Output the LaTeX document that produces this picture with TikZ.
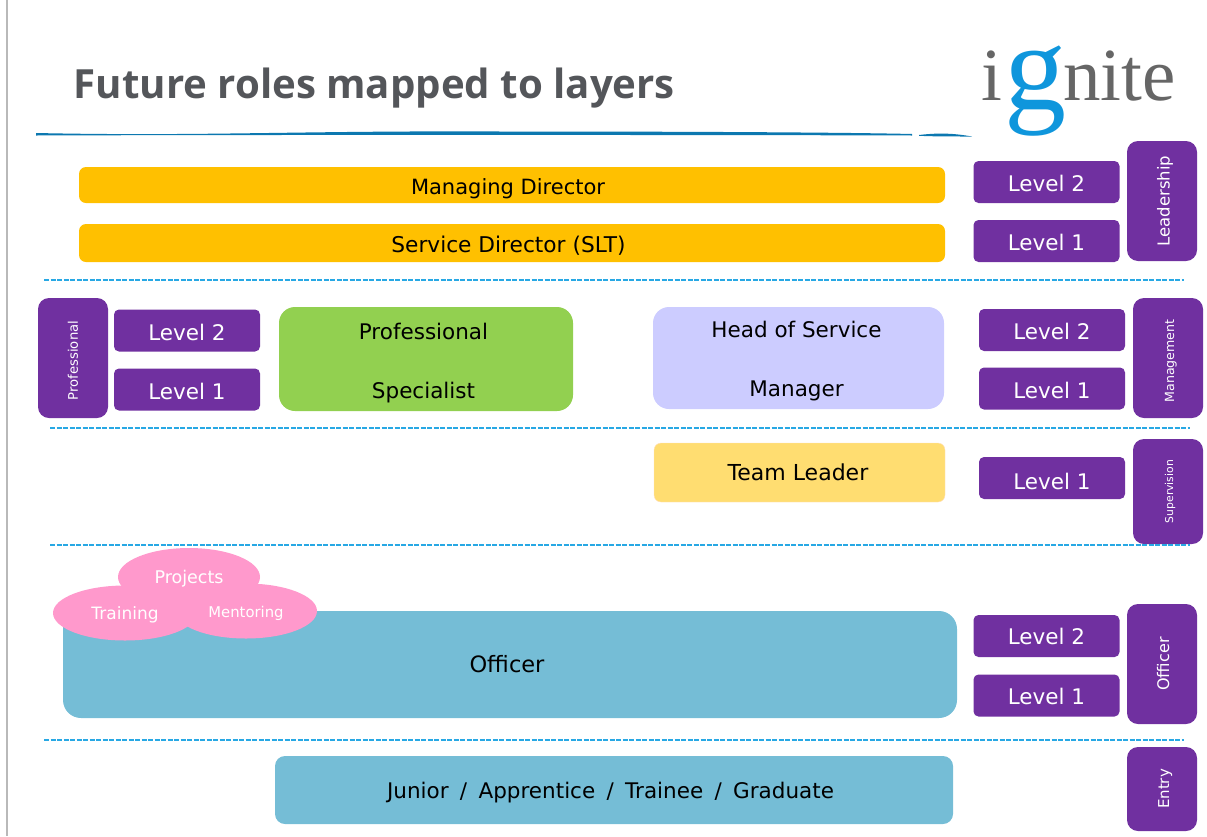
\documentclass[tikz,border=0pt]{standalone}
\usepackage{fontspec}
\setmainfont{DejaVu Sans}
\newfontfamily\titlefont{Open Sans}
\newfontfamily\logofont{Liberation Serif}
\newfontfamily\widefont[WordSpace=1.66]{DejaVu Sans}
\usetikzlibrary{positioning,shapes.geometric}
\definecolor{ignitepurple}{HTML}{7030A0}
\definecolor{igniteamber}{HTML}{FFC000}
\definecolor{ignitegreen}{HTML}{92D050}
\definecolor{ignitelilac}{HTML}{CCCCFF}
\definecolor{igniteyellow}{HTML}{FFDD71}
\definecolor{igniteteal}{HTML}{75BDD6}
\definecolor{ignitepink}{HTML}{FF99CC}
\definecolor{igniteblue}{HTML}{0F96DC}
\definecolor{ignitedash}{HTML}{28A8E4}
\definecolor{ignitegrey}{HTML}{54565A}
\definecolor{logogrey}{HTML}{666666}
\newcommand{\fs}[1]{\fontsize{#1}{#1}\selectfont}
\tikzset{
  rolebox/.style={fill=#1,rounded corners=7pt,inner sep=0pt,align=center,text=black},
  levelbox/.style={fill=ignitepurple,rounded corners=5pt,inner sep=0pt,text=white,
                   minimum width=146pt,minimum height=42pt,font=\fs{21.5},text height=19pt,text depth=0pt},
  sidebox/.style={fill=ignitepurple,rounded corners=11pt,inner sep=0pt,text=white,
                  rotate=90,minimum height=70pt},
  cloudpart/.style={fill=ignitepink,ellipse,inner sep=0pt,text=white},
  layerline/.style={ignitedash,line width=1.2pt,dash pattern=on 5pt off 1.5pt},
}
\begin{document}
\begin{tikzpicture}[x=1pt,y=-1pt]
  \useasboundingbox (0,0) rectangle (1207,836);

  % page edge
  \coordinate (edgetop) at (7,0);
  \coordinate (edgebot) at (7,836);
  \draw[gray!55,line width=2pt] (edgetop) -- (edgebot);

  % heading
  \node[anchor=base west,inner sep=0pt,text=ignitegrey,font=\titlefont\fs{40.2}\bfseries] (title) at (73.5,98) {Future roles mapped to layers};
  \fill[igniteblue!80!black] (36,133) .. controls (200,136.5) and (300,130.5) .. (500,131.5)
      .. controls (700,131.5) and (850,132.5) .. (912,134) -- (912,135.5)
      .. controls (800,135) and (300,134.5) .. (36,135.5) -- cycle;
  \fill[igniteblue!80!black] (919,135) .. controls (940,132.5) and (955,133.5) .. (972,136.5)
      .. controls (950,136.5) and (935,136.5) .. (919,135.8) -- cycle;

  % logo
  \node[anchor=base,inner sep=0pt,text=logogrey,font=\logofont\fs{75}] (logoi) at (991.5,100) {i};
  \node[anchor=base,inner sep=0pt,text=igniteblue,font=\logofont\fs{124}] (logog) at (1035,109.5) {g};
  \node[anchor=base west,inner sep=0pt,text=logogrey,font=\logofont\fs{75}] (logorest) at (1063,100) {nite};

  % leadership layer
  \node[rolebox=igniteamber,minimum width=866pt,minimum height=36pt,font=\fs{21},text height=19pt,text depth=0pt] (md) at (512,185) {\hspace*{-8pt}Managing Director};
  \node[rolebox=igniteamber,minimum width=866pt,minimum height=38pt,font=\fs{21.7},text height=19pt,text depth=0pt] (slt) at (512,243) {\hspace*{-7pt}Service Director (SLT)};
  \node[levelbox] (leadtwo) at (1046.5,182) {Level 2};
  \node[levelbox] (leadone) at (1046.5,241) {Level 1};
  \node[sidebox,minimum width=120pt,font=\fs{16.5},text height=15pt,text depth=0pt] (leadership) at (1162,201) {Leadership};
  \coordinate (lineaL) at (44,280);
  \coordinate (lineaR) at (1184,280);
  \draw[layerline] (lineaL) -- (lineaR);

  % management layer
  \node[sidebox,minimum width=120pt,font=\fs{13.2}] (professional) at (73,358) {\hspace*{-5pt}Professional};
  \node[levelbox] (proftwo) at (187,330.5) {Level 2};
  \node[levelbox] (profone) at (187,389.5) {Level 1};
  \node[rolebox=ignitegreen,rounded corners=16pt,minimum width=294pt,minimum height=104pt,font=\fontsize{21.5}{59}\selectfont,text height=78pt,text depth=0pt] (specialist) at (426,359) {\hspace*{-5pt}Professional\\\hspace*{-5pt}Specialist};
  \node[rolebox=ignitelilac,rounded corners=16pt,minimum width=291pt,minimum height=102pt,font=\fontsize{21.5}{59}\selectfont,text height=76pt,text depth=0pt] (manager) at (798.5,358) {\hspace*{-4pt}Head of Service\\\hspace*{-4pt}Manager};
  \node[levelbox] (mantwo) at (1052,330) {Level 2};
  \node[levelbox] (manone) at (1052,388.5) {Level 1};
  \node[sidebox,minimum width=120pt,font=\fs{12.6},text height=12pt,text depth=0pt] (management) at (1168,358) {\hspace*{-6pt}Management};
  \coordinate (linebL) at (50,428);
  \coordinate (linebR) at (1190,428);
  \draw[layerline] (linebL) -- (linebR);

  % supervision layer
  \node[rolebox=igniteyellow,draw=orange!25,minimum width=291pt,minimum height=59pt,font=\fs{22}] (teamleader) at (799.5,472.5) {\hspace*{-3pt}Team Leader};
  \node[levelbox,text height=22pt] (supone) at (1052,478) {Level 1};
  \node[sidebox,minimum width=105pt,font=\fs{10.8},text height=10pt,text depth=0pt] (supervision) at (1168,491.5) {Supervision};
  \coordinate (linecL) at (50,545);
  \coordinate (linecR) at (1190,545);
  \draw[layerline] (linecL) -- (linecR);

  % officer layer
  \node[rolebox=igniteteal,rounded corners=18pt,minimum width=894pt,minimum height=107pt,font=\fs{22.5}] (officer) at (510,664.5) {\hspace*{-6pt}Officer};
  \node[cloudpart,minimum width=142pt,minimum height=58pt,font=\fs{17.5},text height=15pt,text depth=3pt] (projects) at (189,577) {Projects};
  \node[cloudpart,minimum width=144pt,minimum height=55pt,font=\fs{17},text height=15pt,text depth=3pt] (training) at (125,613) {Training};
  \node[cloudpart,minimum width=142pt,minimum height=55pt,font=\fs{14.8},text height=15pt,text depth=3pt] (mentoring) at (246,611) {Mentoring};
  \node[levelbox,text height=16pt] (offtwo) at (1046.5,636) {Level 2};
  \node[levelbox,text height=17pt] (offone) at (1046.5,695.5) {Level 1};
  \node[sidebox,minimum width=120pt,font=\fs{16},text height=14pt,text depth=0pt] (officerside) at (1162,664) {Officer};
  \coordinate (linedL) at (44,740);
  \coordinate (linedR) at (1184,740);
  \draw[layerline] (linedL) -- (linedR);

  % entry layer
  \node[rolebox=igniteteal,rounded corners=10pt,minimum width=678pt,minimum height=68pt,font=\widefont\fs{21.5},text height=17pt,text depth=0pt] (junior) at (614,790) {\hspace*{-7pt}Junior / Apprentice / Trainee / Graduate};
  \node[sidebox,minimum width=84pt,font=\fs{15},text height=14pt,text depth=0pt] (entry) at (1162,789) {Entry};
\end{tikzpicture}
\end{document}
